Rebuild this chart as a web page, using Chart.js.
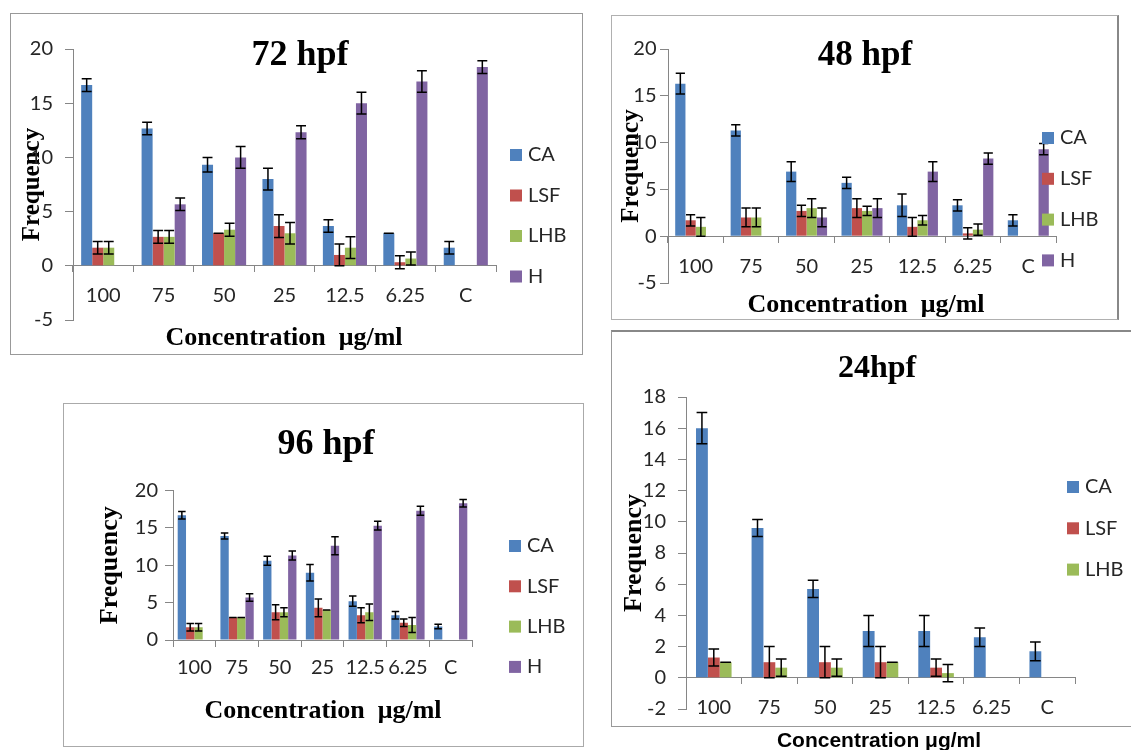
<!DOCTYPE html>
<html><head><meta charset="utf-8">
<script src="https://cdn.jsdelivr.net/npm/chart.js@4.4.0/dist/chart.umd.min.js"></script>
<style>
html,body{margin:0;padding:0;background:#fff;width:1131px;height:750px;overflow:hidden;position:relative}
.frame{position:absolute;box-sizing:border-box;border:1px solid #a6a6a6}
canvas{position:absolute}
</style></head><body>
<div class="frame" style="left:10px;top:13px;width:573px;height:342px;border-color:#999"></div>
<div class="frame" style="left:611px;top:15px;width:508px;height:305px;border-color:#b0b0b0;border-right:2px solid #888"></div>
<div class="frame" style="left:63px;top:403px;width:521px;height:344px;border-color:#aaa"></div>
<div class="frame" style="left:611px;top:330px;width:560px;height:397px;border-color:#999;border-top:2px solid #888;border-right:none"></div>
<canvas id="c72" width="571" height="339" style="left:11px;top:14px"></canvas>
<canvas id="c48" width="505" height="302" style="left:612px;top:16px"></canvas>
<canvas id="c96" width="519" height="341" style="left:64px;top:404px"></canvas>
<canvas id="c24" width="519" height="418" style="left:612px;top:332px"></canvas>
<script>
// ---------- data ----------
const categories = ['100', '75', '50', '25', '12.5', '6.25', 'C'];
const seriesNames = ['CA', 'LSF', 'LHB', 'H'];
const seriesColors = ['#4F81BD', '#C0504D', '#9BBB59', '#8064A2'];
const yAxisTitle = 'Frequency';
const xAxisTitle = 'Concentration  \u03bcg/ml';
const xAxisTitle24 = 'Concentration \u03bcg/ml';

// 72 hpf
const ca72 = [16.67, 12.67, 9.33, 8.0, 3.67, 3.0, 1.67];
const ca72Err = [0.58, 0.58, 0.67, 1.0, 0.58, 0, 0.58];
const lsf72 = [1.67, 2.67, 3.0, 3.67, 1.0, 0.33, 0];
const lsf72Err = [0.58, 0.58, 0, 1.05, 1.0, 0.6, null];
const lhb72 = [1.67, 2.67, 3.33, 3.0, 1.67, 0.67, 0];
const lhb72Err = [0.58, 0.58, 0.6, 1.0, 1.0, 0.6, null];
const h72 = [0, 5.67, 10.0, 12.33, 15.0, 17.0, 18.33];
const h72Err = [null, 0.58, 1.0, 0.6, 1.0, 1.0, 0.58];

// 48 hpf
const ca48 = [16.3, 11.3, 6.9, 5.7, 3.3, 3.3, 1.7];
const ca48Err = [1.1, 0.6, 1.05, 0.6, 1.2, 0.6, 0.6];
const lsf48 = [1.7, 2.0, 2.7, 3.0, 1.0, 0.3, 0];
const lsf48Err = [0.6, 1.0, 0.6, 1.0, 1.0, 0.6, null];
const lhb48 = [1.0, 2.0, 3.0, 2.7, 1.7, 0.7, 0];
const lhb48Err = [1.0, 1.0, 1.0, 0.5, 0.5, 0.6, null];
const h48 = [0, 0, 2.0, 3.0, 6.9, 8.3, 9.3];
const h48Err = [null, null, 1.0, 1.0, 1.05, 0.6, 0.6];

// 96 hpf
const ca96 = [16.7, 13.9, 10.6, 9.0, 5.2, 3.3, 1.8];
const ca96Err = [0.5, 0.4, 0.6, 1.1, 0.7, 0.5, 0.3];
const lsf96 = [1.7, 3.0, 3.7, 4.3, 3.3, 2.3, 0];
const lsf96Err = [0.5, 0, 1.0, 1.2, 1.0, 0.5, null];
const lhb96 = [1.7, 3.0, 3.7, 4.0, 3.7, 2.0, 0];
const lhb96Err = [0.5, 0, 0.6, 0, 1.1, 1.0, null];
const h96 = [0, 5.7, 11.3, 12.6, 15.3, 17.3, 18.3];
const h96Err = [null, 0.5, 0.6, 1.2, 0.6, 0.6, 0.5];

// 24 hpf
const ca24 = [16.0, 9.6, 5.7, 3.0, 3.0, 2.6, 1.7];
const ca24Err = [1.0, 0.55, 0.55, 1.0, 1.0, 0.6, 0.6];
const lsf24 = [1.3, 1.0, 1.0, 1.0, 0.65, 0, 0];
const lsf24Err = [0.55, 1.0, 1.0, 1.0, 0.55, null, null];
const lhb24 = [1.0, 0.65, 0.65, 1.0, 0.3, 0, 0];
const lhb24Err = [0, 0.55, 0.55, 0, 0.55, null, null];

// ---------- styling ----------
const SANS = 'Lato, "Open Sans", sans-serif';
const SERIF = '"Liberation Serif", "Times New Roman", serif';
const ARIAL = '"Liberation Sans", Arial, sans-serif';
const AXIS = '#868686';
const TXT = '#262626';

const errorBars = {
  id: 'errorBars',
  afterDatasetsDraw(chart) {
    const ctx = chart.ctx, y = chart.scales.y;
    ctx.save();
    ctx.strokeStyle = '#000';
    ctx.lineWidth = 1.5;
    chart.data.datasets.forEach((ds, i) => {
      const meta = chart.getDatasetMeta(i);
      meta.data.forEach((bar, j) => {
        const v = ds.data[j], e = ds.errors[j];
        if (e === null || e === undefined) return;
        const hw = bar.width * 0.45;
        const t = y.getPixelForValue(v + e), b = y.getPixelForValue(v - e);
        ctx.beginPath();
        ctx.moveTo(bar.x, t); ctx.lineTo(bar.x, b);
        ctx.moveTo(bar.x - hw, t); ctx.lineTo(bar.x + hw, t);
        ctx.moveTo(bar.x - hw, b); ctx.lineTo(bar.x + hw, b);
        ctx.stroke();
      });
    });
    ctx.restore();
  }
};

const overlay = {
  id: 'overlay',
  afterDraw(chart, args, o) {
    const ctx = chart.ctx, ox = o.ox, oy = o.oy;
    ctx.save();
    ctx.fillStyle = '#000';
    ctx.textAlign = 'center';
    ctx.textBaseline = 'alphabetic';
    ctx.font = 'bold ' + o.titleSize + 'px ' + SERIF;
    ctx.fillText(o.title, o.titleX - ox, o.titleY - oy);
    ctx.font = o.xTitleFont;
    ctx.fillText(o.xTitle, o.xTitleX - ox, o.xTitleY - oy);
    ctx.font = o.legendSize + 'px ' + SANS;
    ctx.textAlign = 'left';
    ctx.textBaseline = 'middle';
    chart.data.datasets.forEach((ds, i) => {
      const cy = o.legendY + i * o.legendDy - oy;
      ctx.fillStyle = ds.backgroundColor;
      ctx.fillRect(o.legendX - ox, cy - 6, 12, 12);
      ctx.fillStyle = TXT;
      ctx.fillText(ds.label, o.legendTextX - ox, cy);
    });
    ctx.restore();
  }
};

function makeChart(id, series, errs, o) {
  const datasets = series.map((d, i) => ({
    label: seriesNames[i], data: d, errors: errs[i],
    backgroundColor: seriesColors[i], borderWidth: 0,
    categoryPercentage: o.cp, barPercentage: 1
  }));
  return new Chart(document.getElementById(id), {
    type: 'bar',
    data: { labels: categories, datasets },
    options: {
      responsive: false, animation: false, devicePixelRatio: 1,
      layout: { padding: o.padding },
      plugins: {
        legend: { display: false }, title: { display: false }, tooltip: { enabled: false },
        overlay: o.overlay
      },
      scales: {
        x: {
          position: { y: 0 },
          grid: { offset: true, drawOnChartArea: false, tickLength: 6, color: AXIS },
          border: { color: AXIS, width: 1 },
          ticks: { autoSkip: false, maxRotation: 0, minRotation: 0, padding: o.xPad,
                   font: { family: SANS, size: o.fs }, color: TXT }
        },
        y: {
          min: o.min, max: o.max,
          ticks: { stepSize: o.step, padding: o.yPad, font: { family: SANS, size: o.fs }, color: TXT },
          grid: { drawOnChartArea: false, tickLength: 8, color: AXIS },
          border: { color: AXIS, width: 1 },
          title: { display: true, text: yAxisTitle, color: '#000',
                   font: { family: SERIF, size: o.yTitleSize, weight: 'bold' },
                   padding: { top: o.yTitlePad, bottom: 0 } },
          afterFit(s) { s.width = o.yWidth; }
        }
      }
    },
    plugins: [errorBars, overlay]
  });
}

makeChart('c72', [ca72, lsf72, lhb72, h72], [ca72Err, lsf72Err, lhb72Err, h72Err], {
  cp: 0.73, padding: { top: 35, bottom: 33, right: 86, left: 0 }, yWidth: 62,
  min: -5, max: 20, step: 5, fs: 20, xPad: 12, yPad: 12, yTitleSize: 25, yTitlePad: 6.5,
  overlay: { ox: 11, oy: 14, title: '72 hpf', titleSize: 36, titleX: 300, titleY: 65,
    xTitle: xAxisTitle, xTitleFont: 'bold 26px ' + SERIF, xTitleX: 284, xTitleY: 345,
    legendSize: 20, legendX: 510, legendTextX: 528, legendY: 155, legendDy: 40.5 }
});

makeChart('c48', [ca48, lsf48, lhb48, h48], [ca48Err, lsf48Err, lhb48Err, h48Err], {
  cp: 0.74, padding: { top: 33, bottom: 35, right: 61, left: 0 }, yWidth: 56,
  min: -5, max: 20, step: 5, fs: 20, xPad: 12, yPad: 3.5, yTitleSize: 25, yTitlePad: 5,
  overlay: { ox: 612, oy: 16, title: '48 hpf', titleSize: 35, titleX: 865, titleY: 65,
    xTitle: xAxisTitle, xTitleFont: 'bold 26px ' + SERIF, xTitleX: 866, xTitleY: 312,
    legendSize: 20, legendX: 1042, legendTextX: 1060, legendY: 138, legendDy: 40.8 }
});

makeChart('c96', [ca96, lsf96, lhb96, h96], [ca96Err, lsf96Err, lhb96Err, h96Err], {
  cp: 0.78, padding: { top: 86.5, bottom: 105, right: 111, left: 0 }, yWidth: 109,
  min: 0, max: 20, step: 5, fs: 20, xPad: 10, yPad: 7, yTitleSize: 26, yTitlePad: 31,
  overlay: { ox: 64, oy: 404, title: '96 hpf', titleSize: 36, titleX: 326, titleY: 454,
    xTitle: xAxisTitle, xTitleFont: 'bold 26px ' + SERIF, xTitleX: 323, xTitleY: 718,
    legendSize: 20, legendX: 509, legendTextX: 527, legendY: 546, legendDy: 40.3 }
});

makeChart('c24', [ca24, lsf24, lhb24], [ca24Err, lsf24Err, lhb24Err], {
  cp: 0.64, padding: { top: 65, bottom: 41, right: 56, left: 0 }, yWidth: 74,
  min: -2, max: 18, step: 2, fs: 20, xPad: 12, yPad: 12, yTitleSize: 26, yTitlePad: 7,
  overlay: { ox: 612, oy: 332, title: '24hpf', titleSize: 32, titleX: 877, titleY: 377,
    xTitle: xAxisTitle24, xTitleFont: 'bold 21px ' + ARIAL, xTitleX: 879, xTitleY: 747,
    legendSize: 20, legendX: 1067, legendTextX: 1085, legendY: 487, legendDy: 41.3 }
});
</script>
</body></html>
